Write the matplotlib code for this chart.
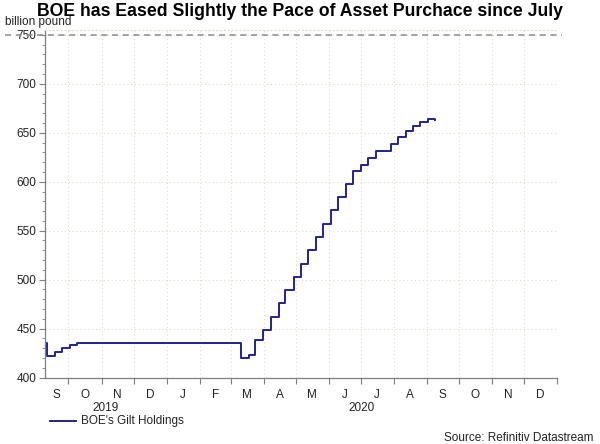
import matplotlib
matplotlib.use("Agg")
import matplotlib.pyplot as plt
import matplotlib.dates as mdates
import matplotlib.transforms as mtransforms
from matplotlib.lines import Line2D
import numpy as np
import pandas as pd

plt.rcParams['font.family'] = ['Liberation Sans', 'DejaVu Sans']

# ---- data ----
dates = ['2019-09-10', '2019-09-11', '2019-09-18', '2019-09-25', '2019-10-02', '2019-10-09',
         '2020-03-11', '2020-03-18', '2020-03-24', '2020-03-31', '2020-04-08', '2020-04-15',
         '2020-04-21', '2020-04-29', '2020-05-06', '2020-05-13', '2020-05-20', '2020-05-27',
         '2020-06-03', '2020-06-10', '2020-06-17', '2020-06-24', '2020-07-01', '2020-07-08',
         '2020-07-15', '2020-07-29', '2020-08-05', '2020-08-12', '2020-08-19', '2020-08-26',
         '2020-09-02', '2020-09-09']
gilt_holdings = [435.0, 421.8, 425.9, 429.9, 433.0, 434.8,
                 420.1, 422.8, 438.0, 448.9, 461.7, 475.9,
                 489.5, 502.9, 516.4, 530.0, 543.5, 557.0,
                 570.9, 584.1, 598.0, 611.2, 617.2, 624.6,
                 631.4, 638.8, 645.9, 652.0, 656.8, 661.5,
                 664.5, 663.5]
month_letters = ['J', 'F', 'M', 'A', 'M', 'J', 'J', 'A', 'S', 'O', 'N', 'D']
y_ticks = [400, 450, 500, 550, 600, 650, 700, 750]
reference_level = 750
series_label = "BOE's Gilt Holdings"
title = "BOE has Eased Slightly the Pace of Asset Purchace since July"
unit_label = "billion pound"
source_label = "Source: Refinitiv Datastream"

x_start = pd.Timestamp('2019-09-09')
x_end = pd.Timestamp('2021-01-01')

# ---- figure ----
fig = plt.figure(figsize=(6.0, 4.44), dpi=100)
ax = fig.add_axes([45/600, 1 - 377.5/444, (557-45)/600, (377.5-30)/444])

line_color = '#23238a'
grid_color = '#dcdccb'
axis_color = '#7f7f7f'

d = pd.to_datetime(dates)
ax.plot(d, gilt_holdings, drawstyle='steps-post', color=line_color, lw=1.4)

ax.set_xlim(x_start, x_end)
ax.set_ylim(400, 755)

# y axis
ax.set_yticks(y_ticks)
ax.set_yticks(np.arange(400, 756, 10), minor=True)
ax.tick_params(axis='y', which='major', direction='out', length=4, color=axis_color,
               labelsize=8.5, pad=2, labelcolor='#222222')
ax.tick_params(axis='y', which='minor', direction='out', length=2, color=axis_color)

# x axis: ticks at month boundaries, labels centered in visible part of each month
month_starts = pd.date_range('2019-10-01', '2021-01-01', freq='MS')
ax.set_xticks(mdates.date2num(month_starts))
ax.set_xticklabels([])
ax.tick_params(axis='x', which='major', direction='out', length=4, color=axis_color)

all_starts = pd.date_range('2019-09-01', '2020-12-01', freq='MS')
mid_pos, mid_lab = [], []
for ms in all_starts:
    me = ms + pd.offsets.MonthBegin(1)
    a = max(mdates.date2num(ms), mdates.date2num(x_start))
    b = min(mdates.date2num(me), mdates.date2num(x_end))
    mid_pos.append((a + b) / 2)
    mid_lab.append(month_letters[ms.month - 1])
ax.set_xticks(mid_pos, minor=True)
ax.set_xticklabels(mid_lab, minor=True)
ax.tick_params(axis='x', which='minor', length=0, labelsize=8.5, pad=8, labelcolor='#222222')

# year labels
for yr in [2019, 2020]:
    a = max(mdates.date2num(pd.Timestamp(f'{yr}-01-01')), mdates.date2num(x_start))
    b = min(mdates.date2num(pd.Timestamp(f'{yr+1}-01-01')), mdates.date2num(x_end))
    ax.annotate(str(yr), xy=((a + b) / 2, 0), xycoords=('data', 'axes fraction'),
                xytext=(0, -30), textcoords='offset pixels', ha='center', va='center',
                fontsize=8.5, color='#222222')

# grid
ax.grid(True, which='major', color=grid_color, linestyle=(0, (1, 2.5)), lw=0.8)
ax.spines['right'].set_visible(False)
ax.spines['top'].set_color(grid_color)
ax.spines['top'].set_linestyle((0, (1, 2.5)))
ax.spines['top'].set_linewidth(0.8)
for s in ['left', 'bottom']:
    ax.spines[s].set_color(axis_color)
    ax.spines[s].set_linewidth(0.9)

# dashed reference line at 750 extending beyond axes
trans = mtransforms.blended_transform_factory(fig.transFigure, ax.transData)
fig.add_artist(Line2D([5/600, 562/600], [reference_level, reference_level], transform=trans,
                      color='#8c8c8c', lw=1.1, linestyle=(0, (4, 3))))

# texts
fig.text(300/600, 1 - 12/444, title, ha='center', va='center', fontsize=12.7,
         fontweight='bold', color='black')
fig.text(5/600, 1 - 22.5/444, unit_label, ha='left', va='center', fontsize=8.5, color='#222222')
fig.text(593/600, 1 - 438/444, source_label, ha='right', va='center', fontsize=8.5, color='#222222')

# legend
fig.add_artist(Line2D([50/600, 76/600], [1 - 421/444, 1 - 421/444], transform=fig.transFigure,
                      color=line_color, lw=1.4))
fig.text(81/600, 1 - 421/444, series_label, ha='left', va='center', fontsize=8.5, color='#222222')

fig.savefig('out.png', dpi=100)
